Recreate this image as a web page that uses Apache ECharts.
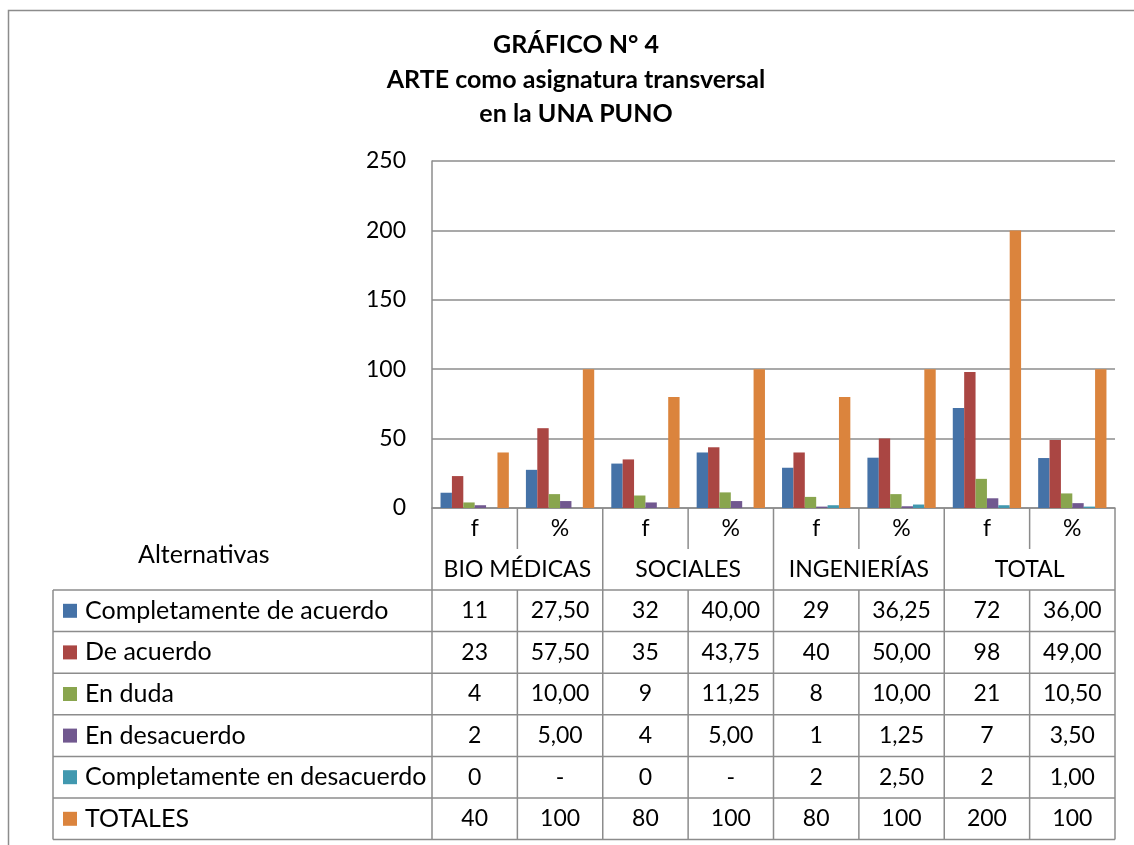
<!DOCTYPE html>
<html>
<head>
<meta charset="UTF-8">
<title>GRÁFICO N° 4</title>
<script src="https://cdn.jsdelivr.net/npm/echarts@6/dist/echarts.min.js"></script>
<style>
	body{margin:0;background:#fff;}
	#main{width:1134px;height:845px;}
</style>
</head>
<body>
<div id="main"></div>
<script type="text/javascript">
	// datos del grafico
	var categories = ['f', '%', 'f', '%', 'f', '%', 'f', '%'];
	var groups = ['BIO MÉDICAS', 'SOCIALES', 'INGENIERÍAS', 'TOTAL'];
	var titleLines = ['GRÁFICO N° 4', 'ARTE como asignatura transversal', 'en la UNA PUNO'];
	var seriesNames = ['Completamente de acuerdo', 'De acuerdo', 'En duda', 'En desacuerdo', 'Completamente en desacuerdo', 'TOTALES'];
	var completamenteAcuerdo = [11, 27.5, 32, 40, 29, 36.25, 72, 36];
	var deAcuerdo = [23, 57.5, 35, 43.75, 40, 50, 98, 49];
	var enDuda = [4, 10, 9, 11.25, 8, 10, 21, 10.5];
	var enDesacuerdo = [2, 5, 4, 5, 1, 1.25, 7, 3.5];
	var completamenteDesacuerdo = [0, null, 0, null, 2, 2.5, 2, 1];
	var totales = [40, 100, 80, 100, 80, 100, 200, 100];
	var yTicks = {min: 0, max: 250, interval: 50};

	var seriesData = [completamenteAcuerdo, deAcuerdo, enDuda, enDesacuerdo, completamenteDesacuerdo, totales];
	var colors = ['#4572A7', '#AA4643', '#89A54E', '#71588F', '#4198AF', '#DB843D'];
	var FONT = 'Lato, "Liberation Sans", sans-serif';
	var LINE = '#8c8c8c';

	function formatCell(v, col, isTotal){
		if (v == null) return '-';
		if (col % 2 == 0 || isTotal) return String(v);
		return v.toFixed(2).replace('.', ',');
	}

	var myChart = echarts.init(document.getElementById('main'));
	var series = [];
	for (var i = 0; i < seriesNames.length; i++) {
		series.push({
			name: seriesNames[i],
			type: 'bar',
			data: seriesData[i],
			barGap: '0%',
			barCategoryGap: '20%',
			itemStyle: {color: colors[i]}
		});
	}
	var option = {
		animation: false,
		grid: {left: 432, right: 19, top: 161, bottom: 337},
		xAxis: {
			type: 'category',
			data: categories,
			axisLine: {lineStyle: {color: LINE, width: 1.5}},
			axisTick: {show: false},
			axisLabel: {fontFamily: FONT, fontSize: 23, color: '#000', margin: 9}
		},
		yAxis: {
			type: 'value',
			min: yTicks.min,
			max: yTicks.max,
			interval: yTicks.interval,
			axisLine: {show: true, lineStyle: {color: LINE, width: 1.5}},
			axisTick: {show: false},
			axisLabel: {fontFamily: FONT, fontSize: 23, color: '#000', margin: 26},
			splitLine: {lineStyle: {color: LINE, width: 1.5}}
		},
		series: series
	};
	myChart.setOption(option);

	// tabla de datos debajo del eje
	var c0 = myChart.convertToPixel({xAxisIndex: 0}, 0);
	var c1 = myChart.convertToPixel({xAxisIndex: 0}, 1);
	var step = c1 - c0;
	var xStart = c0 - step / 2;
	var xEnd = xStart + step * categories.length;
	var yZero = myChart.convertToPixel({yAxisIndex: 0}, 0);
	var headH = 41;
	var tableTop = yZero + headH * 2;
	var rowH = 41.6;
	var tableBottom = tableTop + rowH * seriesNames.length;
	var tableLeft = 53;

	var g = [];
	function line(x1, y1, x2, y2){
		g.push({type: 'line', shape: {x1: x1, y1: y1, x2: x2, y2: y2}, style: {stroke: LINE, lineWidth: 1.5}, z: 10});
	}
	function text(x, y, s, align, size, bold){
		g.push({type: 'text', x: x, y: y, z: 11, style: {text: s, fill: '#000', font: (bold ? 'bold ' : '') + size + 'px ' + FONT, align: align, verticalAlign: 'middle'}});
	}

	// marco exterior
	g.push({type: 'rect', shape: {x: 8.5, y: 10.5, width: 1300, height: 1000}, style: {fill: null, stroke: LINE, lineWidth: 1.5}, z: 1});

	for (var t = 0; t < titleLines.length; t++) {
		text(576, 45 + t * 34.5, titleLines[t], 'center', 25, true);
	}

	for (var k = 0; k <= categories.length; k++) {
		var x = xStart + k * step;
		if (k % 2 == 0) {
			line(x, yZero, x, tableBottom);
		} else {
			line(x, yZero, x, yZero + headH);
			line(x, tableTop, x, tableBottom);
		}
	}
	line(tableLeft, tableTop, tableLeft, tableBottom);
	for (var r = 0; r <= seriesNames.length; r++) {
		line(tableLeft, tableTop + r * rowH, xEnd, tableTop + r * rowH);
	}
	for (var gi = 0; gi < groups.length; gi++) {
		text(xStart + (gi * 2 + 1) * step, yZero + headH * 1.5, groups[gi], 'center', 23);
	}
	text(138, yZero + headH * 1.15, 'Alternativas', 'left', 25);

	for (var s = 0; s < seriesNames.length; s++) {
		var yc = tableTop + (s + 0.5) * rowH;
		g.push({type: 'rect', shape: {x: 63, y: yc - 7, width: 14, height: 14}, style: {fill: colors[s]}, z: 11});
		text(85, yc, seriesNames[s], 'left', 25);
		for (var c = 0; c < categories.length; c++) {
			text(xStart + (c + 0.5) * step, yc, formatCell(seriesData[s][c], c, s == seriesNames.length - 1), 'center', 23);
		}
	}
	myChart.setOption({graphic: g});
</script>
</body>
</html>
